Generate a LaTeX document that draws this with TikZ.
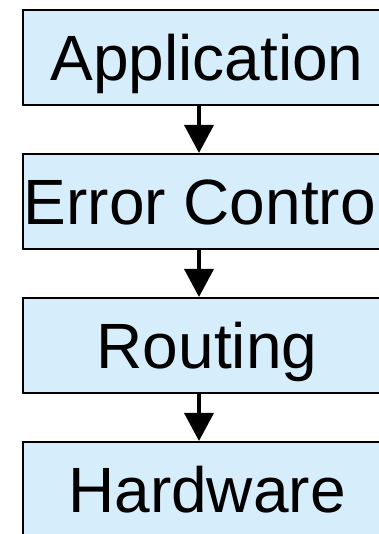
\documentclass[tikz,border=0pt]{standalone}
\usepackage{fontspec}
\setmainfont{Liberation Sans}
\usetikzlibrary{arrows.meta}
\definecolor{boxfill}{RGB}{214,237,252}
\newcommand{\lyrtext}[1]{\makebox[0pt]{#1}}
\begin{document}
\begin{tikzpicture}[x=1pt,y=1pt,
  layer/.style={draw=black, line width=2pt, fill=boxfill,
    minimum width=368pt, minimum height=95pt, inner sep=0pt,
    text height=47pt, text depth=0pt,
    font=\fontsize{64}{70}\selectfont},
  arr/.style={line width=3.6pt, -{Triangle[width=29pt,length=28pt]}}]
\useasboundingbox (0,0) rectangle (379,534);
\clip (0,0) rectangle (379,534);
\node[layer] (app) at (207,476.5) {\lyrtext{Application}};
\node[layer] (err) at (207,332.5) {\lyrtext{Error Control}};
\node[layer] (rout) at (207,188.5) {\lyrtext{Routing}};
\node[layer] (hw) at (207,44.5) {\lyrtext{Hardware}};
\coordinate (ax) at (199,0);
\draw[arr] (app.south -| ax) -- (err.north -| ax);
\draw[arr] (err.south -| ax) -- (rout.north -| ax);
\draw[arr] (rout.south -| ax) -- (hw.north -| ax);
\end{tikzpicture}
\end{document}
